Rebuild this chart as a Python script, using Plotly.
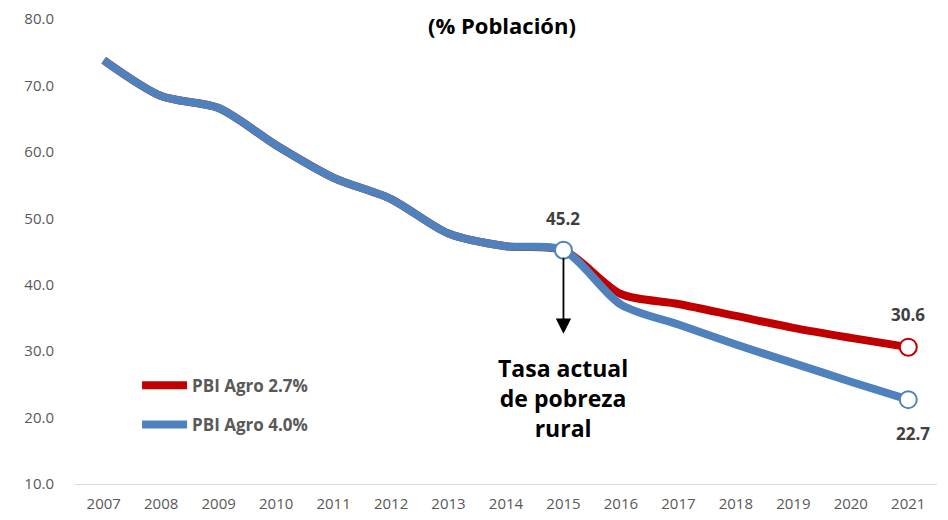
import plotly.graph_objects as go

# --- datos: pobreza rural (% poblacion)
years = list(range(2007, 2022))
agro_27 = [73.8, 68.4, 66.6, 61.0, 56.1, 52.9, 47.7, 45.8, 45.2, 38.6, 37.1, 35.3, 33.5, 32.0, 30.6]
agro_40 = [73.8, 68.4, 66.6, 61.0, 56.1, 52.9, 47.7, 45.8, 45.2, 37.0, 34.0, 31.0, 28.2, 25.4, 22.7]
y_ticks = [10, 20, 30, 40, 50, 60, 70, 80]

red = '#C00000'
blue = '#4F81BD'
font = 'Open Sans, Noto Sans, sans-serif'

fig = go.Figure()

fig.add_trace(go.Scatter(
    x=years, y=agro_27, name='PBI Agro 2.7%', mode='lines',
    line=dict(color=red, width=8, shape='spline', smoothing=0.8),
    legendgroup='a'))
fig.add_trace(go.Scatter(
    x=years, y=agro_40, name='PBI Agro 4.0%', mode='lines',
    line=dict(color=blue, width=8, shape='spline', smoothing=0.8),
    legendgroup='b'))

# --- open circle markers at 2015 and 2021
fig.add_trace(go.Scatter(
    x=[years[-1]], y=[agro_27[-1]], mode='markers', showlegend=False,
    marker=dict(size=17, color='white', line=dict(color=red, width=2))))
fig.add_trace(go.Scatter(
    x=[years[8], years[-1]], y=[agro_40[8], agro_40[-1]], mode='markers', showlegend=False,
    marker=dict(size=17, color='white', line=dict(color=blue, width=2))))

lab = dict(family=font, size=17, color='#404040')
fig.add_annotation(x=years[8], y=agro_40[8], text='<b>45.2</b>', showarrow=False,
                   yshift=32, font=lab)
fig.add_annotation(x=years[-1], y=agro_27[-1], text='<b>30.6</b>', showarrow=False,
                   yshift=33, font=lab)
fig.add_annotation(x=years[-1], y=agro_40[-1], text='<b>22.7</b>', showarrow=False,
                   yshift=-34, xshift=5, font=lab)

# --- flecha tasa actual
fig.add_annotation(x=2015, y=32.6, ax=2015, ay=44.3, xref='x', yref='y',
                   axref='x', ayref='y', text='', showarrow=True,
                   arrowhead=2, arrowsize=1.7, arrowwidth=1.8, arrowcolor='black')
fig.add_annotation(x=2015, y=22.9, text='<b>Tasa actual<br>de pobreza<br>rural</b>',
                   showarrow=False, font=dict(family=font, size=23, color='black'))

# --- titulo
fig.add_annotation(x=0.495, y=1.0, xref='paper', yref='paper', yanchor='middle',
                   text='<b>(% Población)</b>', showarrow=False, yshift=-6,
                   font=dict(family=font, size=22, color='black'))

# page body adds ~8px offset, margins account for it
fig.update_layout(
    width=948, height=520,
    margin=dict(l=67, r=19, t=11, b=44, autoexpand=False),
    plot_bgcolor='white', paper_bgcolor='white',
    font=dict(family=font, size=15, color='#595959'),
    showlegend=True,
    legend=dict(x=0.072, y=0.25, xanchor='left', yanchor='top',
                font=dict(family=font, size=17, color='#595959', weight='bold'),
                tracegroupgap=14, itemwidth=45, bgcolor='rgba(0,0,0,0)'),
)
fig.update_xaxes(range=[2006.5, 2021.5], tickvals=years, showgrid=False,
                 showline=True, linecolor='#D9D9D9', linewidth=1, ticks='',
                 ticklabelstandoff=6, automargin=False,
                 tickfont=dict(size=15, color='#595959'), zeroline=False)
fig.update_yaxes(range=[10, 80], tickvals=y_ticks, tickformat='.1f', showgrid=False,
                 showline=False, zeroline=False, ticks='', ticklabelstandoff=20,
                 automargin=False, ticklabeloverflow='allow',
                 tickfont=dict(size=15, color='#595959'))

fig.write_html("out.html")
